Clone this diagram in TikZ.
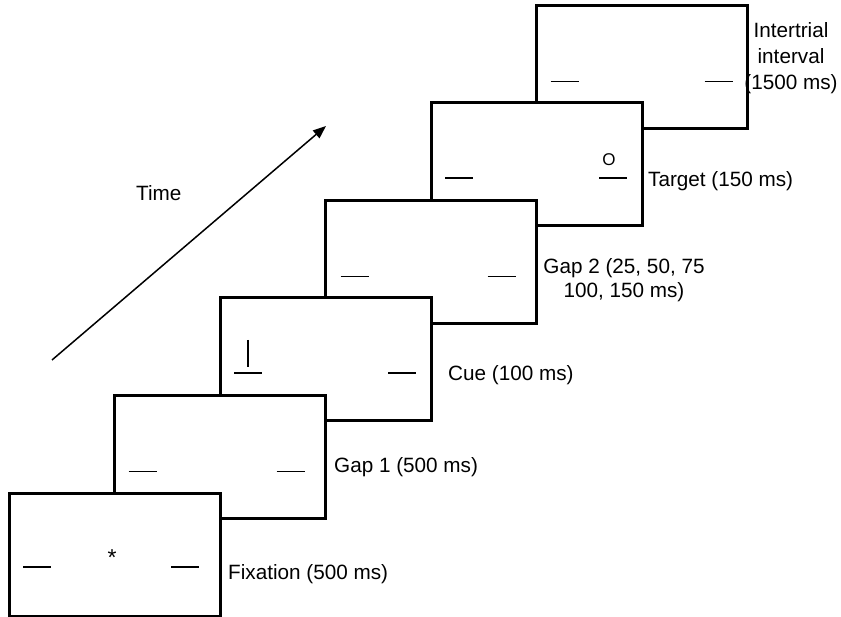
\documentclass[tikz,border=0pt]{standalone}
\usepackage{fontspec}
\setmainfont{Liberation Sans}
\usetikzlibrary{arrows.meta,calc}
\begin{document}
\begin{tikzpicture}[x=1pt,y=-1pt,
  screen/.style={draw=black,line width=3pt,fill=white,minimum width=211pt,
    minimum height=123pt,anchor=north west,inner sep=0pt,outer sep=0pt},
  bar/.style={line width=1.4pt},
  lbl/.style={inner sep=0pt,anchor=base west,font=\fontsize{20.7}{25}\selectfont},
  mlbl/.style={inner sep=0pt,align=center},
  timearrow/.style={line width=1.5pt,-{Triangle[length=13pt,width=10pt]}}
]
\useasboundingbox (0,0) rectangle (841,617);

% screens, drawn from the last (back) to the first (front)
\node[screen] (iti)  at (536.5,5.5) {};
\draw[bar] ($(iti.north west)+(14,76)$) -- ++(28,0);
\draw[bar] ($(iti.north west)+(168,76)$) -- ++(28,0);

\node[screen] (tgt)  at (431,103) {};
\draw[bar] ($(tgt.north west)+(14,75)$) -- ++(28,0);
\draw[bar] ($(tgt.north west)+(168,75)$) -- ++(28,0);
\node[inner sep=0pt,font=\fontsize{17}{17}\selectfont] (circ) at ($(tgt.north west)+(178,57)$) {O};

\node[screen] (gapb) at (325.5,200.5) {};
\draw[bar] ($(gapb.north west)+(15,76)$) -- ++(28,0);
\draw[bar] ($(gapb.north west)+(162,76)$) -- ++(28,0);

\node[screen] (cue)  at (220,298) {};
\draw[bar] ($(cue.north west)+(14,75)$) -- ++(28,0);
\draw[bar] ($(cue.north west)+(28,42)$) -- ++(0,27);
\draw[bar] ($(cue.north west)+(168,75)$) -- ++(28,0);

\node[screen] (gapa) at (114.5,395.5) {};
\draw[bar] ($(gapa.north west)+(14,76)$) -- ++(28,0);
\draw[bar] ($(gapa.north west)+(162,76)$) -- ++(28,0);

\node[screen] (fix)  at (9,493) {};
\draw[bar] ($(fix.north west)+(14,74)$) -- ++(28,0);
\draw[bar] ($(fix.north west)+(162,74)$) -- ++(28,0);
\node[inner sep=0pt,anchor=base,font=\fontsize{23}{25}\selectfont] (star) at (112,565) {*};

% labels
\node[lbl] (lfix)  at (228,579) {Fixation (500 ms)};
\node[lbl] (lgapa) at (334,472) {Gap 1 (500 ms)};
\node[lbl] (lcue)  at (448,381) {Cue (100 ms)};
\node[mlbl,font=\fontsize{20.7}{24}\selectfont] (lgapb) at (624,280) {Gap 2 (25, 50, 75\\100, 150 ms)};
\node[lbl] (ltgt)  at (648,187) {Target (150 ms)};
\node[mlbl,font=\fontsize{20.7}{26}\selectfont] (liti) at (791,58.5) {Intertrial\\interval\\(1500 ms)};

% time arrow
\coordinate (tstart) at (52,360);
\coordinate (tend) at (326,126);
\draw[timearrow] (tstart) -- (tend);
\node[lbl] (ltime) at (136,201) {Time};
\end{tikzpicture}
\end{document}
